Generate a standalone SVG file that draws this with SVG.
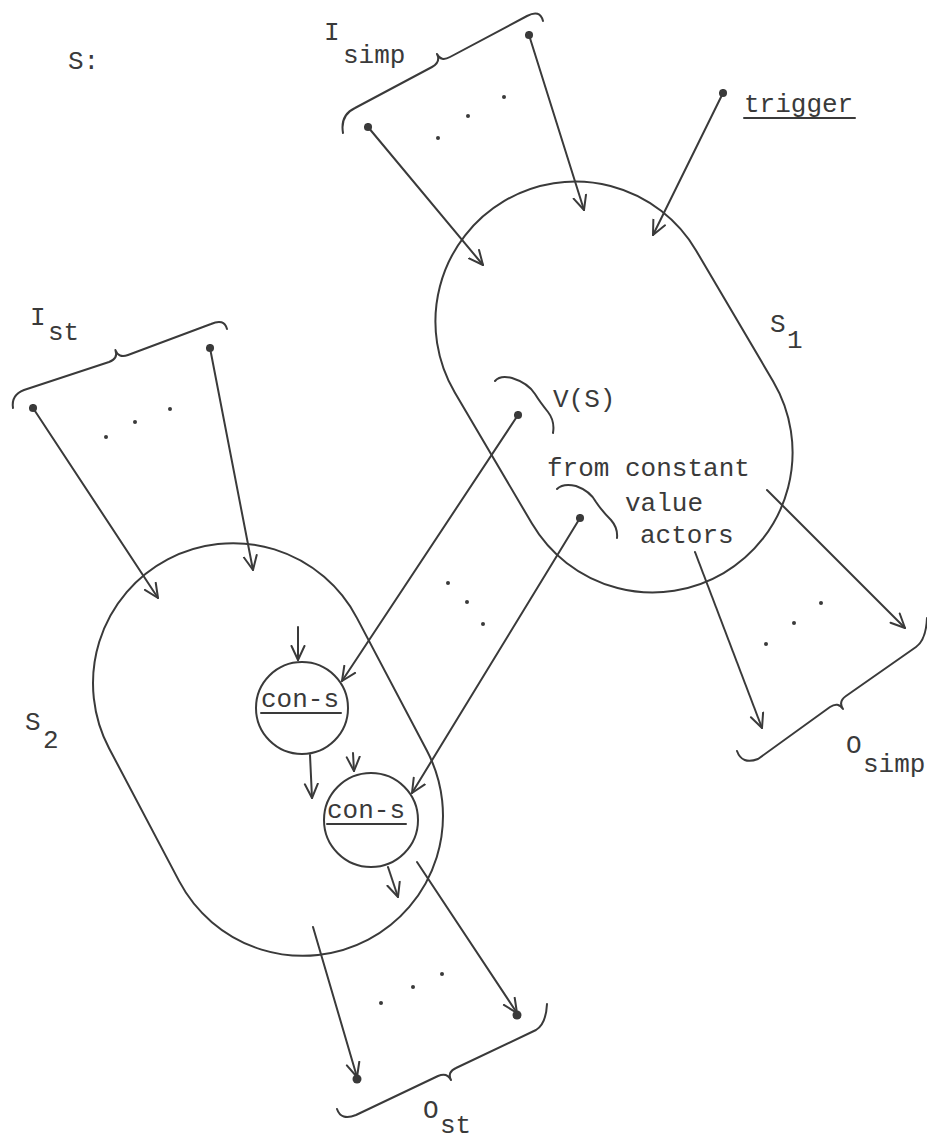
<svg xmlns="http://www.w3.org/2000/svg" width="927" height="1143" viewBox="0 0 927 1143">
<defs>
<style>
.t{font-family:"Liberation Mono","DejaVu Sans Mono",monospace;font-size:26px;fill:#3a3a3a;}
.ln{stroke:#3a3a3a;stroke-width:2;fill:none;stroke-linecap:round;stroke-linejoin:round;}
.arr{marker-end:url(#ah);}
.dotted{marker-start:url(#dot);}
.dot{fill:#3a3a3a;}
.sd{fill:#3a3a3a;}
</style>
<marker id="ah" viewBox="0 0 16 16" refX="15" refY="8" markerWidth="16" markerHeight="16" markerUnits="userSpaceOnUse" orient="auto">
<path d="M1,1.5 L15,8 L1,14.5" fill="none" stroke="#3a3a3a" stroke-width="2" stroke-linecap="round" stroke-linejoin="round"/>
</marker>
<marker id="dot" viewBox="0 0 10 10" refX="5" refY="5" markerWidth="9" markerHeight="9" markerUnits="userSpaceOnUse">
<circle cx="5" cy="5" r="4.5" fill="#3a3a3a"/>
</marker>
</defs>
<rect width="927" height="1143" fill="#ffffff"/>

<g id="title"><text class="t" x="68" y="69">S:</text></g>

<g id="S1">
<rect class="ln" x="398" y="247" width="432" height="280" rx="140" ry="140" transform="rotate(59.5 614 387)"/>
<text class="t" x="770" y="332">S</text><text class="t" x="787" y="348">1</text>
</g>

<g id="S2">
<rect class="ln" x="53" y="609.5" width="430" height="280" rx="140" ry="140" transform="rotate(62.2 268 749.5)"/>
<text class="t" x="25" y="730">S</text><text class="t" x="43" y="748">2</text>
</g>

<g id="con-s1">
<circle class="ln" cx="302" cy="708" r="46"/>
<text class="t" x="261" y="707">con-s</text>
<line class="ln" x1="261" y1="713" x2="341" y2="713"/>
</g>

<g id="con-s2">
<circle class="ln" cx="371" cy="820" r="47"/>
<text class="t" x="327" y="818">con-s</text>
<line class="ln" x1="327" y1="824" x2="406" y2="824"/>
</g>

<g id="I_simp">
<path class="ln" d="M343,133 Q340,115 355,108 L432,67 Q441,62 437,54 Q441,62 450,57 L527,16 Q540,9 543,21"/>
<text class="t" x="324" y="40">I</text><text class="t" x="343" y="63">simp</text>
<circle class="sd" cx="438" cy="138" r="2"/><circle class="sd" cx="468" cy="116" r="2"/><circle class="sd" cx="504" cy="97" r="2"/>
</g>

<g id="trigger">
<text class="t" x="744" y="112">trigger</text>
<line class="ln" x1="744" y1="118" x2="855" y2="118"/>
</g>

<g id="I_st">
<path class="ln" d="M13,408 Q11,395 24,390 L109,362 Q118.5,358.5 115.4,350 Q118.5,358.5 128,355 L211,324 Q224,318 227,329"/>
<text class="t" x="30" y="325">I</text><text class="t" x="48" y="340">st</text>
<circle class="sd" cx="106" cy="437" r="2"/><circle class="sd" cx="135" cy="422" r="2"/><circle class="sd" cx="170" cy="409" r="2"/>
</g>

<g id="VS">
<path class="ln" d="M495,381 Q500,375 512,378 Q528,383 535,394 Q540,402 548,412 Q555,421 553,433"/>
<text class="t" x="553" y="407">V(S)</text>
</g>

<g id="constants">
<path class="ln" d="M557,489 Q563,483 576,486 Q590,491 596,502 Q602,511 611,520 Q618,528 617,538"/>
<text class="t" x="547" y="476">from constant</text>
<text class="t" x="625" y="511">value</text>
<text class="t" x="640" y="543">actors</text>
</g>

<g id="O_simp">
<path class="ln" d="M737,751 Q742,765 758,759 L830,707 Q838,701.5 843,709 Q838,701.5 846,696 L916,647 Q926,640 927,618"/>
<text class="t" x="846" y="753">O</text><text class="t" x="863" y="772">simp</text>
<circle class="sd" cx="766" cy="644" r="2"/><circle class="sd" cx="794" cy="623" r="2"/><circle class="sd" cx="821" cy="603" r="2"/>
</g>

<g id="O_st">
<path class="ln" d="M337,1109 Q341,1121 356,1115 L438,1076 Q447,1072 451,1080 Q447,1072 456,1068 L536,1030 Q546,1024 547,1004"/>
<text class="t" x="423" y="1118">O</text><text class="t" x="440" y="1133">st</text>
<circle class="sd" cx="381" cy="1003" r="2"/><circle class="sd" cx="413" cy="987" r="2"/><circle class="sd" cx="442" cy="974" r="2"/>
</g>

<g id="connectors">
<line class="ln arr dotted" x1="368" y1="127" x2="483" y2="265"/>
<line class="ln arr dotted" x1="529" y1="35" x2="584" y2="210"/>
<line class="ln arr dotted" x1="723" y1="93" x2="653" y2="235"/>
<line class="ln arr dotted" x1="33" y1="408" x2="158" y2="598"/>
<line class="ln arr dotted" x1="210" y1="348" x2="253" y2="570"/>
<line class="ln arr dotted" x1="518" y1="415" x2="342" y2="681"/>
<line class="ln arr dotted" x1="580" y1="518" x2="412" y2="793"/>
<line class="ln arr" x1="298" y1="627" x2="298" y2="660"/>
<line class="ln arr" x1="310" y1="755" x2="312" y2="798"/>
<line class="ln arr" x1="353" y1="753" x2="354" y2="771"/>
<line class="ln arr" x1="388" y1="867" x2="398" y2="897"/>
<line class="ln arr" x1="767" y1="490" x2="905" y2="628"/>
<line class="ln arr" x1="695" y1="552" x2="762" y2="728"/>
<line class="ln arr" x1="313" y1="927" x2="357" y2="1077"/>
<line class="ln arr" x1="417" y1="862" x2="517" y2="1013"/>
<circle class="dot" cx="357" cy="1079" r="4.5"/>
<circle class="dot" cx="517" cy="1015" r="4.5"/>
<circle class="sd" cx="448" cy="583" r="2"/><circle class="sd" cx="467" cy="602" r="2"/><circle class="sd" cx="483" cy="624" r="2"/>
</g>
</svg>
